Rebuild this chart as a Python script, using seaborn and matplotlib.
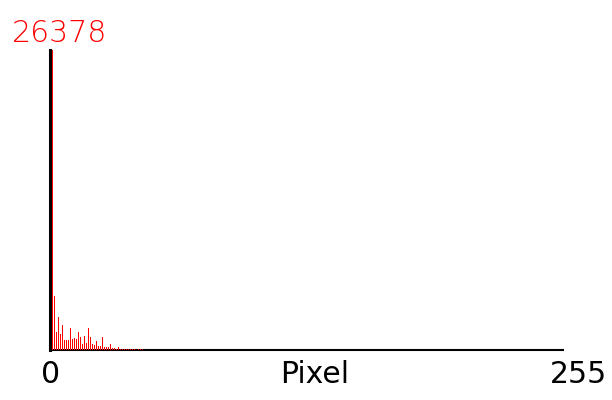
import matplotlib
matplotlib.use("Agg")
import matplotlib.pyplot as plt
import seaborn as sns

# histogram counts, bins 0..255
counts_head = [26378, 4750, 1580, 2900, 1400, 2200, 880, 880, 880, 1930,
               970, 1060, 970, 1580, 1140, 530, 1230, 620, 1930, 1140,
               530, 440, 790, 350, 350, 1140, 260, 260, 260, 530,
               180, 180, 90, 260, 90, 90, 90, 90, 90, 90,
               90, 90, 40, 90, 90, 90, 40, 40, 40, 40]
counts_tail = [0] * (256 - len(counts_head))
counts = counts_head + counts_tail
pixels = list(range(256))

x_label = "Pixel"
x_min_label = "0"
x_max_label = "255"

sns.set_style("white")
plt.rcParams['font.family'] = ['DejaVu Sans']

fig = plt.figure(figsize=(6.12, 4.0), dpi=100)
ax = fig.add_axes([50 / 612, 50 / 400, 512.5 / 612, 300 / 400])

sns.barplot(x=pixels, y=counts, native_scale=True, color='#ff0000', saturation=1,
            width=0.5, linewidth=0, ax=ax, zorder=3)
for p in ax.patches:
    p.set_antialiased(False)

ax.set_xlim(-1.25, 255)
ax.set_ylim(0, max(counts))
ax.set_xticks([])
ax.set_yticks([])
ax.set_xlabel('')
ax.set_ylabel('')
for side in ['top', 'right']:
    ax.spines[side].set_visible(False)
ax.spines['left'].set_color('black')
ax.spines['left'].set_linewidth(2.2)
ax.spines['left'].set_zorder(2)
ax.spines['bottom'].set_color('black')
ax.spines['bottom'].set_linewidth(1.5)
ax.spines['bottom'].set_zorder(1)

fig.text(12 / 612, 1 - 42 / 400, str(max(counts)), color='#ff0000', fontsize=21.5,
         ha='left', va='baseline', fontweight='light')
fig.text(51 / 612, 1 - 383 / 400, x_min_label, color='black', fontsize=21.5,
         ha='center', va='baseline')
fig.text(315 / 612, 1 - 383 / 400, x_label, color='black', fontsize=21.5,
         ha='center', va='baseline')
fig.text(579 / 612, 1 - 383 / 400, x_max_label, color='black', fontsize=21.5,
         ha='center', va='baseline')

fig.savefig("out.png", dpi=100, facecolor='white')
